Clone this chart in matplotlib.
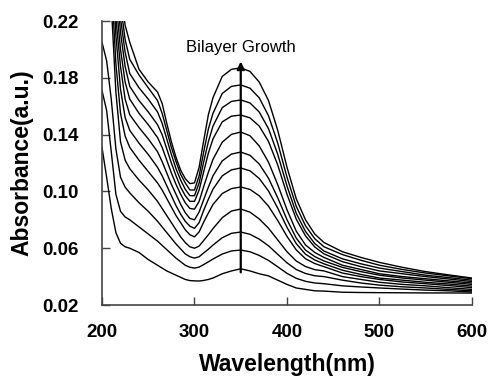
import matplotlib
matplotlib.use("Agg")
import matplotlib.pyplot as plt

plt.rcParams['font.family'] = ['Liberation Sans', 'DejaVu Sans']

# wavelength grid (nm)
wavelength = [200, 205, 210, 215, 220, 225, 230, 240, 250, 260, 265, 270, 275, 280, 285, 290,
              295, 300, 305, 310, 315, 320, 330, 340, 350, 360, 370, 380, 390, 400, 410, 420,
              430, 440, 460, 480, 500, 525, 550, 575, 600]

# absorbance spectra, one per bilayer (bottom to top)
abs_01 = [0.131, 0.110, 0.088, 0.071, 0.0635, 0.061, 0.060, 0.057, 0.052, 0.048, 0.046, 0.044, 0.0425, 0.041, 0.0395, 0.038,
          0.0372, 0.037, 0.0369, 0.0373, 0.038, 0.039, 0.042, 0.044, 0.0455, 0.0440, 0.042, 0.0405, 0.0375, 0.0345, 0.032, 0.031,
          0.030, 0.0298, 0.029, 0.0288, 0.0287, 0.0286, 0.0285, 0.0285, 0.0284]
abs_02 = [0.171, 0.157, 0.128, 0.098, 0.086, 0.082, 0.080, 0.075, 0.070, 0.065, 0.062, 0.059, 0.056, 0.053, 0.0505, 0.048,
          0.0466, 0.046, 0.0467, 0.0485, 0.0504, 0.0524, 0.0559, 0.0581, 0.0587, 0.0575, 0.0549, 0.0514, 0.0469, 0.0423, 0.0388, 0.0367,
          0.0355, 0.035, 0.0335, 0.0327, 0.032, 0.0312, 0.0305, 0.030, 0.0292]
abs_03 = [0.205, 0.192, 0.165, 0.130, 0.110, 0.103, 0.099, 0.092, 0.086, 0.079, 0.075, 0.071, 0.067, 0.063, 0.0595, 0.056,
          0.054, 0.053, 0.054, 0.0567, 0.0593, 0.0622, 0.0674, 0.0705, 0.0714, 0.0698, 0.0664, 0.0617, 0.0557, 0.0497, 0.045, 0.0422,
          0.0406, 0.040, 0.0375, 0.0355, 0.034, 0.0328, 0.032, 0.031, 0.030]
abs_04 = [0.36, 0.30, 0.232, 0.170, 0.135, 0.122, 0.116, 0.108, 0.101, 0.093, 0.088, 0.083, 0.078, 0.073, 0.068, 0.064,
          0.061, 0.060, 0.0615, 0.0655, 0.0695, 0.0738, 0.0815, 0.0862, 0.0876, 0.0854, 0.0806, 0.0741, 0.0658, 0.0575, 0.051, 0.0471,
          0.0449, 0.044, 0.040, 0.038, 0.036, 0.0345, 0.0335, 0.0322, 0.031]
abs_05 = [0.38, 0.32, 0.25, 0.19, 0.155, 0.139, 0.131, 0.122, 0.114, 0.106, 0.101, 0.095, 0.089, 0.083, 0.078, 0.073,
          0.0695, 0.068, 0.0715, 0.0785, 0.0848, 0.0908, 0.0985, 0.102, 0.1031, 0.1014, 0.0969, 0.0896, 0.0795, 0.0683, 0.0588, 0.0526,
          0.0492, 0.047, 0.0425, 0.040, 0.038, 0.0362, 0.035, 0.0337, 0.0322]
abs_06 = [0.40, 0.34, 0.27, 0.21, 0.172, 0.152, 0.143, 0.134, 0.126, 0.117, 0.111, 0.104, 0.097, 0.090, 0.084, 0.079,
          0.0755, 0.074, 0.078, 0.0868, 0.0945, 0.1016, 0.111, 0.1152, 0.1165, 0.1145, 0.1091, 0.1003, 0.0882, 0.0747, 0.0632, 0.0558,
          0.0517, 0.049, 0.0445, 0.0415, 0.039, 0.0375, 0.036, 0.0348, 0.0333]
abs_07 = [0.42, 0.36, 0.29, 0.222, 0.188, 0.165, 0.154, 0.145, 0.137, 0.128, 0.121, 0.113, 0.105, 0.098, 0.091, 0.085,
          0.081, 0.080, 0.0855, 0.0943, 0.103, 0.111, 0.1215, 0.1263, 0.1277, 0.1254, 0.1193, 0.1093, 0.0955, 0.0801, 0.0671, 0.0587,
          0.0541, 0.051, 0.0465, 0.0435, 0.041, 0.039, 0.0375, 0.036, 0.0345]
abs_08 = [0.44, 0.38, 0.31, 0.235, 0.200, 0.177, 0.165, 0.155, 0.147, 0.138, 0.131, 0.122, 0.113, 0.105, 0.098, 0.092,
          0.088, 0.0875, 0.093, 0.1035, 0.1135, 0.1226, 0.1347, 0.1402, 0.1418, 0.1392, 0.132, 0.1206, 0.1047, 0.0871, 0.072, 0.0623,
          0.0570, 0.0535, 0.048, 0.045, 0.042, 0.040, 0.0385, 0.037, 0.0355]
abs_09 = [0.46, 0.40, 0.33, 0.25, 0.212, 0.188, 0.174, 0.164, 0.156, 0.147, 0.140, 0.130, 0.120, 0.111, 0.103, 0.097,
          0.093, 0.093, 0.101, 0.114, 0.127, 0.137, 0.149, 0.153, 0.1538, 0.1518, 0.146, 0.1352, 0.1186, 0.098, 0.0805, 0.0687,
          0.0609, 0.056, 0.0505, 0.047, 0.044, 0.042, 0.040, 0.0383, 0.0365]
abs_10 = [0.48, 0.42, 0.35, 0.265, 0.222, 0.198, 0.183, 0.173, 0.165, 0.156, 0.148, 0.137, 0.126, 0.116, 0.108, 0.1015,
          0.097, 0.097, 0.106, 0.121, 0.135, 0.146, 0.159, 0.1634, 0.1644, 0.1623, 0.1559, 0.1442, 0.1261, 0.1038, 0.0846, 0.0718,
          0.0633, 0.058, 0.0525, 0.049, 0.046, 0.0435, 0.041, 0.0393, 0.0375]
abs_11 = [0.50, 0.44, 0.37, 0.28, 0.232, 0.207, 0.193, 0.182, 0.173, 0.164, 0.155, 0.143, 0.131, 0.121, 0.112, 0.106,
          0.101, 0.101, 0.111, 0.128, 0.144, 0.155, 0.169, 0.174, 0.175, 0.1727, 0.1659, 0.1533, 0.134, 0.110, 0.0895, 0.0758,
          0.0667, 0.061, 0.0555, 0.0515, 0.048, 0.045, 0.0425, 0.0405, 0.0385]
abs_12 = [0.52, 0.46, 0.39, 0.30, 0.242, 0.217, 0.205, 0.186, 0.177, 0.170, 0.162, 0.148, 0.135, 0.124, 0.115, 0.109,
          0.1055, 0.106, 0.117, 0.136, 0.154, 0.166, 0.181, 0.186, 0.187, 0.1845, 0.177, 0.164, 0.143, 0.117, 0.0948, 0.080,
          0.070, 0.064, 0.0575, 0.0535, 0.050, 0.0465, 0.0435, 0.0412, 0.039]

spectra = [abs_01, abs_02, abs_03, abs_04, abs_05, abs_06,
           abs_07, abs_08, abs_09, abs_10, abs_11, abs_12]

x_ticks = [200, 300, 400, 500, 600]
y_ticks = [0.02, 0.06, 0.10, 0.14, 0.18, 0.22]

fig = plt.figure(figsize=(4.89, 3.76), dpi=100)
ax = fig.add_axes([0.2086, 0.1888, 0.7566, 0.7553])

for s in spectra:
    ax.plot(wavelength, s, color='black', lw=1.0)

# growth arrow at the band maximum
ax.annotate('', xy=(350, 0.1915), xytext=(350, 0.043),
            arrowprops=dict(arrowstyle='-|>', color='black', lw=1.6,
                            mutation_scale=11, shrinkA=0, shrinkB=0))
ax.text(350, 0.1962, 'Bilayer Growth', ha='center', va='bottom', fontsize=12)

ax.set_xlim(200, 600)
ax.set_ylim(0.02, 0.22)
ax.set_xticks(x_ticks)
ax.set_yticks(y_ticks)
ax.set_xticklabels([str(t) for t in x_ticks])
ax.set_yticklabels(['%.2f' % t for t in y_ticks])

for side in ('top', 'right'):
    ax.spines[side].set_visible(False)
for side in ('left', 'bottom'):
    ax.spines[side].set_color('#444444')
    ax.spines[side].set_linewidth(1.2)

ax.tick_params(direction='in', length=6, width=1.0, color='#444444',
               labelsize=13.5)
ax.tick_params(axis='x', pad=14)
ax.tick_params(axis='y', pad=17)
for lab in ax.get_xticklabels() + ax.get_yticklabels():
    lab.set_fontweight('bold')

ax.set_xlabel('Wavelength(nm)', fontsize=16.5, fontweight='bold', labelpad=8)
ax.set_ylabel('Absorbance(a.u.)', fontsize=16.5, fontweight='bold', labelpad=6)

fig.savefig('out.png', dpi=100)
